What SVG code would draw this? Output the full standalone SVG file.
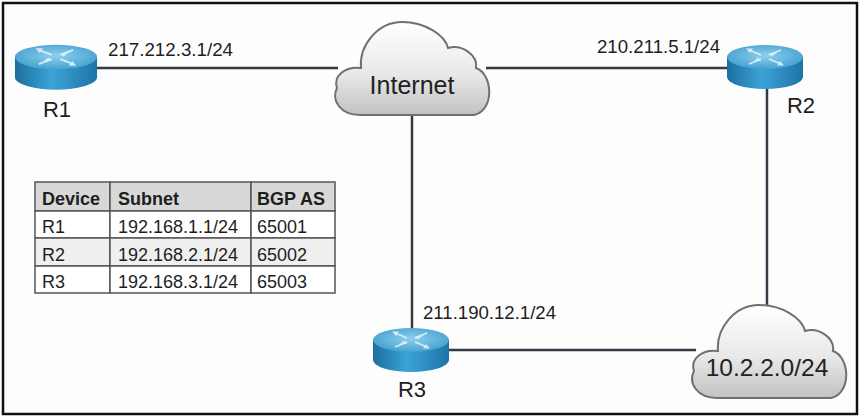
<svg xmlns="http://www.w3.org/2000/svg" xmlns:xlink="http://www.w3.org/1999/xlink" width="864" height="420" viewBox="0 0 864 420">
<style>
.lbl{font-family:"Liberation Sans",Arial,sans-serif;fill:#1e1e1e}
.ip{font-size:18px}
.rn{font-size:22px;text-anchor:middle}
.cl{text-anchor:middle;fill:#222}
.th{font-size:18px;font-weight:bold}
.td{font-size:18px}
.link{stroke:#353b45;stroke-width:2.5;fill:none}
.cell{stroke:#555;stroke-width:1.5}
.cloud{stroke:#707070;stroke-width:2}
</style>
<defs>
<radialGradient id="rtop" cx="0.5" cy="0.45" r="0.6">
<stop offset="0" stop-color="#8fd0ee"/>
<stop offset="1" stop-color="#3f9ecd"/>
</radialGradient>
<linearGradient id="rside" x1="0" y1="0" x2="1" y2="0">
<stop offset="0" stop-color="#1c6f9f"/>
<stop offset="0.45" stop-color="#3ba3d6"/>
<stop offset="1" stop-color="#1f74a6"/>
</linearGradient>
<linearGradient id="cgrad" x1="0" y1="0" x2="0" y2="1">
<stop offset="0" stop-color="#ffffff"/>
<stop offset="0.55" stop-color="#e9e9e9"/>
<stop offset="1" stop-color="#c2c2c2"/>
</linearGradient>
<g id="router">
<path d="M -38 0 L -38 20 A 38 12 0 0 0 38 20 L 38 0 Z" fill="url(#rside)"/>
<ellipse cx="0" cy="0" rx="38" ry="12" fill="url(#rtop)"/>
<g stroke="#e8f6fd" stroke-width="1.8" fill="#e8f6fd" opacity="0.85">
<line x1="-4" y1="-2" x2="-16" y2="-7"/>
<line x1="4" y1="2" x2="16" y2="7"/>
<line x1="-4" y1="2" x2="-16" y2="7"/>
<line x1="4" y1="-2" x2="16" y2="-7"/>
<path d="M -19 -8.5 L -12 -8.5 L -15 -4 Z" stroke="none"/>
<path d="M 19 8.5 L 12 8.5 L 15 4 Z" stroke="none"/>
<path d="M -4 4 L -11 4 L -7 0.5 Z" stroke="none"/>
<path d="M 4 -4 L 11 -4 L 7 -0.5 Z" stroke="none"/>
</g>
</g>
<path id="cloudshape" d="M 25 93 C 5 93 -4 78 2 66 C -2 54 10 44 26 46 C 24 23 43 0 67 0 C 90 0 110 13 113 26 C 127 22 143 33 141 46 C 158 52 160 88 139 93 Z"/>
</defs>
<rect x="0" y="0" width="864" height="420" fill="#ffffff"/>
<rect x="3" y="3" width="854" height="411" fill="#fdfdfd" stroke="#111" stroke-width="2.5"/>
<g id="connectors">
<line class="link" x1="97" y1="68" x2="338" y2="68"/>
<line class="link" x1="486" y1="68" x2="729" y2="68"/>
<line class="link" x1="767" y1="88" x2="767" y2="307"/>
<line class="link" x1="412" y1="113" x2="412" y2="330"/>
<line class="link" x1="448" y1="350" x2="696" y2="350"/>
</g>
<g id="R1">
<use xlink:href="#router" href="#router" transform="translate(56,57) scale(1.08,1.02)"/>
<text class="lbl rn" x="57" y="117">R1</text>
<text class="lbl ip" x="108" y="56" textLength="125" lengthAdjust="spacingAndGlyphs">217.212.3.1/24</text>
</g>
<g id="R2">
<use xlink:href="#router" href="#router" transform="translate(765,57)"/>
<text class="lbl rn" x="801" y="113">R2</text>
<text class="lbl ip" x="597" y="53" textLength="123" lengthAdjust="spacingAndGlyphs">210.211.5.1/24</text>
</g>
<g id="R3">
<use xlink:href="#router" href="#router" transform="translate(411,340)"/>
<text class="lbl rn" x="412" y="397">R3</text>
<text class="lbl ip" x="423" y="319" textLength="133" lengthAdjust="spacingAndGlyphs">211.190.12.1/24</text>
</g>
<g id="Internet">
<use xlink:href="#cloudshape" href="#cloudshape" class="cloud" fill="url(#cgrad)" transform="translate(335,22)"/>
<text class="lbl cl" x="412" y="94" font-size="25">Internet</text>
</g>
<g id="Subnet10">
<use xlink:href="#cloudshape" href="#cloudshape" class="cloud" fill="url(#cgrad)" transform="translate(692,305)"/>
<text class="lbl cl" x="767" y="376" font-size="24.5">10.2.2.0/24</text>
</g>
<g id="table">
<rect class="cell" x="35" y="182" width="75" height="29" fill="#d8d8d8"/>
<rect class="cell" x="110" y="182" width="141" height="29" fill="#d8d8d8"/>
<rect class="cell" x="251" y="182" width="84" height="29" fill="#d8d8d8"/>
<rect class="cell" x="35" y="211" width="75" height="27" fill="#ffffff"/>
<rect class="cell" x="110" y="211" width="141" height="27" fill="#ffffff"/>
<rect class="cell" x="251" y="211" width="84" height="27" fill="#ffffff"/>
<rect class="cell" x="35" y="238" width="75" height="28" fill="#efefef"/>
<rect class="cell" x="110" y="238" width="141" height="28" fill="#efefef"/>
<rect class="cell" x="251" y="238" width="84" height="28" fill="#efefef"/>
<rect class="cell" x="35" y="266" width="75" height="27" fill="#ffffff"/>
<rect class="cell" x="110" y="266" width="141" height="27" fill="#ffffff"/>
<rect class="cell" x="251" y="266" width="84" height="27" fill="#ffffff"/>
<text class="lbl th" x="42" y="205">Device</text>
<text class="lbl th" x="118" y="205">Subnet</text>
<text class="lbl th" x="257" y="205">BGP AS</text>
<text class="lbl td" x="42" y="233">R1</text>
<text class="lbl td" x="118" y="233">192.168.1.1/24</text>
<text class="lbl td" x="257" y="233">65001</text>
<text class="lbl td" x="42" y="261">R2</text>
<text class="lbl td" x="118" y="261">192.168.2.1/24</text>
<text class="lbl td" x="257" y="261">65002</text>
<text class="lbl td" x="42" y="288">R3</text>
<text class="lbl td" x="118" y="288">192.168.3.1/24</text>
<text class="lbl td" x="257" y="288">65003</text>
</g>
</svg>
